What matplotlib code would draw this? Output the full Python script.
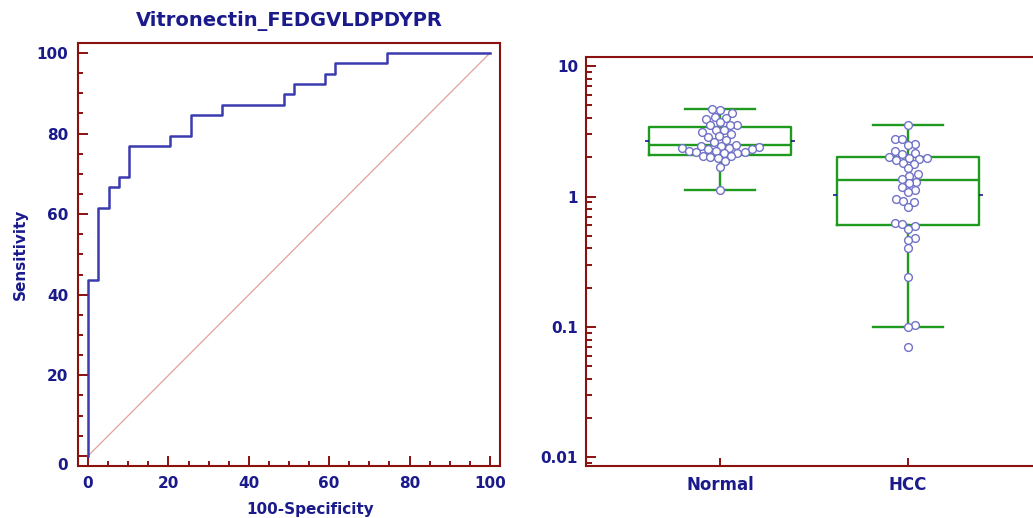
import numpy as np
import matplotlib.pyplot as plt
from matplotlib.ticker import MultipleLocator, FixedLocator, FixedFormatter, LogLocator, NullFormatter, FuncFormatter

# ROC curve corners (steps-post), in percent
roc_fpr = [0, 0, 2.56, 5.13, 7.69, 10.26, 20.51, 25.64, 33.33, 48.72, 51.28, 58.97, 61.54, 74.36, 100]
roc_tpr = [0, 43.59, 61.54, 66.67, 69.23, 76.92, 79.49, 84.62, 87.18, 89.74, 92.31, 94.87, 97.44, 100, 100]

groups = ["Normal", "HCC"]
normal_vals = [4.68, 4.64, 4.39, 4.09, 3.99, 3.95, 3.70, 3.55, 3.53, 3.51,
               3.25, 3.21, 3.10, 2.99, 2.89, 2.85, 2.71, 2.60, 2.50, 2.46,
               2.42, 2.38, 2.36, 2.34, 2.32, 2.30, 2.25, 2.23, 2.21, 2.19,
               2.17, 2.14, 2.06, 2.04, 2.02, 1.96, 1.87, 1.69, 1.13]
hcc_vals = [3.51, 2.78, 2.74, 2.53, 2.49, 2.23, 2.16, 2.12, 2.02, 1.98,
            1.96, 1.94, 1.90, 1.82, 1.78, 1.64, 1.48, 1.44, 1.36, 1.30,
            1.26, 1.18, 1.12, 1.08, 0.96, 0.92, 0.90, 0.83, 0.63, 0.61,
            0.59, 0.56, 0.48, 0.46, 0.40, 0.24, 0.104, 0.099, 0.070]

# box statistics: lower whisker, Q1, median, Q3, upper whisker
whis_lo = [1.13, 0.10]
q1 = [2.08, 0.60]
medians = [2.47, 1.33]
q3 = [3.41, 2.00]
whis_hi = [4.66, 3.51]

navy = "#1a1a8c"
darkred = "#8b1010"
green = "#1e9a1e"

plt.rcParams["font.family"] = "DejaVu Sans"
plt.rcParams["font.weight"] = "bold"

fig = plt.figure(figsize=(10.33, 5.18), dpi=100)

# ---- ROC panel ----
ax1 = fig.add_axes([0.0755, 0.1004, 0.4085, 0.8166])
ax1.plot([0, 100], [0, 100], color="#e4a09a", lw=0.9)
ax1.plot(roc_fpr, roc_tpr, drawstyle="steps-post", color="#3b3bb0", lw=1.8)
ax1.set_xlim(-2.5, 102.5)
ax1.set_ylim(-2.5, 102.5)
ax1.xaxis.set_major_locator(MultipleLocator(20))
ax1.xaxis.set_minor_locator(MultipleLocator(5))
ax1.yaxis.set_major_locator(MultipleLocator(20))
ax1.yaxis.set_minor_locator(MultipleLocator(5))
# the "0" on the y axis is written separately, a little lower
ax1.yaxis.set_major_formatter(FuncFormatter(lambda v, p: "" if abs(v) < 1e-9 else f"{v:.0f}"))
ax1.tick_params(which="both", direction="in", color=darkred, width=1.4,
                labelcolor=navy, labelsize=11, top=False, right=False)
ax1.tick_params(which="major", length=7, pad=7)
ax1.tick_params(which="minor", length=3.6)
ax1.annotate("0", xy=(0, 0), xycoords=("axes fraction", "data"),
             xytext=(-7, -7), textcoords="offset points", ha="right",
             va="center", color=navy, fontsize=11, fontweight="bold")
for s in ax1.spines.values():
    s.set_color(darkred)
    s.set_linewidth(1.5)
ax1.set_title("Vitronectin_FEDGVLDPDYPR", color=navy, fontsize=14,
              fontweight="bold", pad=12)
ax1.set_ylabel("Sensitivity", color=navy, fontsize=11, fontweight="bold")
ax1.set_xlabel("100-Specificity", color=navy, fontsize=11, fontweight="bold")
ax1.yaxis.set_label_coords(-0.118, 0.5)
ax1.xaxis.set_label_coords(0.55, -0.085)

# ---- dot & box panel ----
ax2 = fig.add_axes([0.567, 0.1004, 0.4417, 0.7901])
ax2.set_yscale("log")
ax2.set_xlim(0.286, 2.714)
ax2.set_ylim(0.00858, 11.8)
positions = [1, 2]
stats = []
for i, g in enumerate(groups):
    stats.append(dict(label=g, whislo=whis_lo[i], q1=q1[i], med=medians[i],
                      q3=q3[i], whishi=whis_hi[i], fliers=[]))
lp = dict(color=green, lw=1.7)
ax2.bxp(stats, positions=positions, widths=0.755, capwidths=0.37,
        showfliers=False, boxprops=lp, whiskerprops=lp, capprops=lp,
        medianprops=lp, manage_ticks=False)

# geometric mean markers beside each box
for pos, vals in zip(positions, [normal_vals, hcc_vals]):
    gm = 10 ** np.mean(np.log10(vals))
    ax2.hlines(gm, pos - 0.3775 - 0.022, pos - 0.3775, color=navy, lw=1.2)
    ax2.hlines(gm, pos + 0.3775, pos + 0.3775 + 0.022, color=navy, lw=1.2)


def swarm_x(ax, pos, vals, d):
    pts = ax.transData.transform(np.column_stack([np.full(len(vals), pos), vals]))
    xs = np.zeros(len(vals))
    placed = []
    for i in np.argsort(vals):
        y = pts[i, 1]
        near = [(xo, yo) for xo, yo in placed if abs(yo - y) < d]
        cands = [0.0]
        for xo, yo in near:
            dx = np.sqrt(d ** 2 - (yo - y) ** 2)
            cands += [xo + dx, xo - dx]
        cands.sort(key=abs)
        for c in cands:
            if all((c - xo) ** 2 + (y - yo) ** 2 >= d ** 2 - 1e-6 for xo, yo in near):
                xs[i] = c
                break
        placed.append((xs[i], y))
    disp = np.column_stack([pts[:, 0] + xs, pts[:, 1]])
    return ax.transData.inverted().transform(disp)[:, 0]


for pos, vals in zip(positions, [normal_vals, hcc_vals]):
    xv = swarm_x(ax2, pos, vals, 7.6)
    ax2.plot(xv, vals, "o", ms=5.6, mfc="white", mec="#7272c8", mew=1.0,
             zorder=5, clip_on=False)

ax2.yaxis.set_major_locator(FixedLocator([0.01, 0.1, 1, 10]))
ax2.yaxis.set_major_formatter(FixedFormatter(["0.01", "0.1", "1", "10"]))
ax2.yaxis.set_minor_locator(LogLocator(base=10, subs=np.arange(2, 10)))
ax2.yaxis.set_minor_formatter(NullFormatter())
ax2.xaxis.set_major_locator(FixedLocator(positions))
ax2.xaxis.set_major_formatter(FixedFormatter(groups))
ax2.tick_params(which="both", direction="in", color=darkred, width=1.4,
                labelcolor=navy, top=False, right=False)
ax2.tick_params(axis="y", which="major", length=7, pad=5.5, labelsize=11)
ax2.tick_params(axis="y", which="minor", length=4)
ax2.tick_params(axis="x", which="major", length=6, pad=7, labelsize=12)
for s in ax2.spines.values():
    s.set_color(darkred)
    s.set_linewidth(1.5)

fig.savefig("out.png", dpi=100)
